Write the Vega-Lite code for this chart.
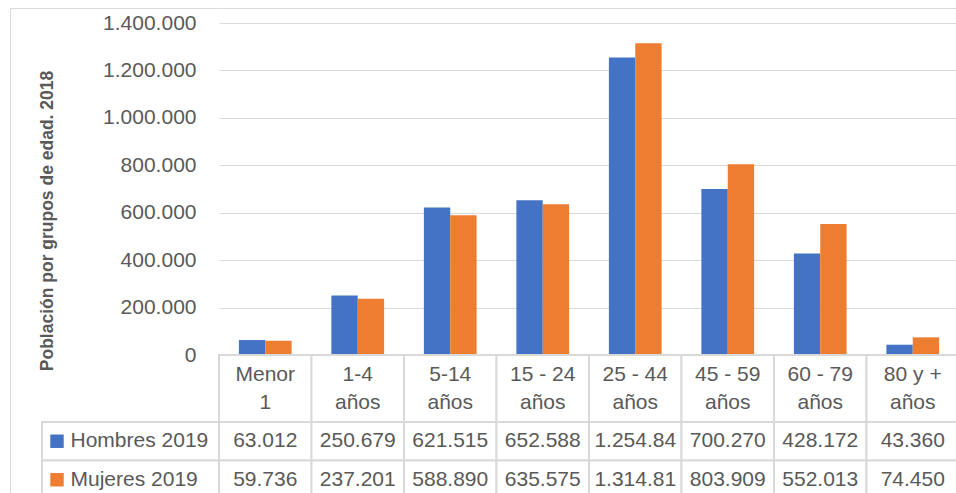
{
  "$schema": "https://vega.github.io/schema/vega-lite/v6.json",
  "background": "white",
  "padding": {"left": 10, "top": 8, "right": 0, "bottom": 0},
  "config": {
    "font": "Liberation Sans",
    "view": {"stroke": null},
    "locale": {"number": {"decimal": ",", "thousands": ".", "grouping": [3], "currency": ["", " €"]}}
  },
  "datasets": {
    "datos": [
      {"grupo": "Menor 1", "serie": "Hombres 2019", "valor": 63012},
      {"grupo": "Menor 1", "serie": "Mujeres 2019", "valor": 59736},
      {"grupo": "1-4 años", "serie": "Hombres 2019", "valor": 250679},
      {"grupo": "1-4 años", "serie": "Mujeres 2019", "valor": 237201},
      {"grupo": "5-14 años", "serie": "Hombres 2019", "valor": 621515},
      {"grupo": "5-14 años", "serie": "Mujeres 2019", "valor": 588890},
      {"grupo": "15 - 24 años", "serie": "Hombres 2019", "valor": 652588},
      {"grupo": "15 - 24 años", "serie": "Mujeres 2019", "valor": 635575},
      {"grupo": "25 - 44 años", "serie": "Hombres 2019", "valor": 1254840},
      {"grupo": "25 - 44 años", "serie": "Mujeres 2019", "valor": 1314810},
      {"grupo": "45 - 59 años", "serie": "Hombres 2019", "valor": 700270},
      {"grupo": "45 - 59 años", "serie": "Mujeres 2019", "valor": 803909},
      {"grupo": "60 - 79 años", "serie": "Hombres 2019", "valor": 428172},
      {"grupo": "60 - 79 años", "serie": "Mujeres 2019", "valor": 552013},
      {"grupo": "80 y + años", "serie": "Hombres 2019", "valor": 43360},
      {"grupo": "80 y + años", "serie": "Mujeres 2019", "valor": 74450}
    ]
  },
  "columns": 2,
  "spacing": 0,
  "bounds": "flush",
  "resolve": {
    "scale": {"x": "independent", "y": "independent"},
    "axis": {"x": "independent", "y": "independent"}
  },
  "concat": [
    {
      "width": 177,
      "height": 332,
      "data": {"values": []},
      "mark": "point",
      "encoding": {
        "x": {"datum": 0, "type": "quantitative", "scale": {"domain": [0, 1], "range": [-32, 177]},
              "axis": {"orient": "top", "offset": 15, "labels": false, "ticks": false, "grid": false, "title": null, "domainColor": "#d9d9d9", "domainWidth": 1}},
        "y": {"datum": 0, "type": "quantitative", "scale": {"domain": [0, 1], "range": [476, -15]},
              "axis": {"orient": "left", "offset": 32, "labels": false, "ticks": false, "grid": false, "title": null, "domainColor": "#d9d9d9", "domainWidth": 1}}
      }
    },
    {
      "width": 740,
      "height": 332,
      "data": {"name": "datos"},
      "mark": {"type": "bar"},
      "encoding": {
        "x": {"field": "grupo", "type": "nominal", "sort": null,
              "scale": {"paddingInner": 0.43, "paddingOuter": 0.215},
              "axis": {"orient": "top", "offset": 15, "labels": false, "ticks": false, "grid": false, "title": null, "domainColor": "#d9d9d9", "domainWidth": 1}},
        "xOffset": {"field": "serie", "type": "nominal", "sort": null},
        "y": {"field": "valor", "type": "quantitative",
              "scale": {"domain": [0, 1400000], "nice": false},
              "axis": {
                "values": [0, 200000, 400000, 600000, 800000, 1000000, 1200000, 1400000],
                "format": ",d",
                "domain": false, "ticks": false,
                "labelFontSize": 21, "labelColor": "#595959", "labelPadding": 23,
                "gridColor": "#d9d9d9", "gridWidth": 1,
                "title": "Población por grupos de edad. 2018",
                "titleFontSize": 17.5, "titleFontWeight": "bold", "titleColor": "#595959",
                "titleAngle": 270, "titleAlign": "center", "titleBaseline": "middle",
                "titleX": -172, "titleY": 197.5
              }},
        "color": {"field": "serie", "type": "nominal",
                  "scale": {"domain": ["Hombres 2019", "Mujeres 2019"], "range": ["#4472c4", "#ed7d31"]},
                  "legend": null}
      }
    },
    {
      "width": 177,
      "height": 67,
      "data": {"values": []},
      "mark": "point"
    },
    {
      "width": 740,
      "height": 67,
      "data": {"name": "datos"},
      "transform": [
        {"filter": "datum.serie == 'Hombres 2019'"},
        {"calculate": "datum.grupo == 'Menor 1' ? 'Menor|1' : replace(datum.grupo, ' años', '|años')", "as": "linea"}
      ],
      "encoding": {
        "x": {"field": "grupo", "type": "nominal", "sort": null,
              "scale": {"paddingInner": 0, "paddingOuter": 0}, "axis": null}
      },
      "layer": [
        {"mark": {"type": "rect", "fill": "white", "stroke": "#d9d9d9", "strokeWidth": 2}},
        {"mark": {"type": "text", "lineBreak": "|", "lineHeight": 28, "fontSize": 21, "color": "#595959", "baseline": "middle", "dy": -14},
         "encoding": {"text": {"field": "linea"}}}
      ]
    },
    {
      "width": 177,
      "height": 77,
      "data": {"name": "datos"},
      "transform": [{"aggregate": [{"op": "count", "as": "n"}], "groupby": ["serie"]}],
      "encoding": {
        "y": {"field": "serie", "type": "nominal", "sort": ["Hombres 2019", "Mujeres 2019"],
              "scale": {"paddingInner": 0, "paddingOuter": 0}, "axis": null}
      },
      "layer": [
        {"mark": {"type": "rect", "fill": "white", "stroke": "#d9d9d9", "strokeWidth": 2}},
        {"mark": {"type": "square", "size": 180, "filled": true, "opacity": 1, "xOffset": -73.5},
         "encoding": {"color": {"field": "serie", "type": "nominal", "legend": null}}},
        {"mark": {"type": "text", "align": "left", "baseline": "middle", "dx": -60, "fontSize": 21, "color": "#595959"},
         "encoding": {"text": {"field": "serie"}}}
      ]
    },
    {
      "width": 740,
      "height": 77,
      "data": {"name": "datos"},
      "transform": [
        {"calculate": "slice(format(datum.valor, ',d'), 0, 8)", "as": "txt"}
      ],
      "encoding": {
        "x": {"field": "grupo", "type": "nominal", "sort": null,
              "scale": {"paddingInner": 0, "paddingOuter": 0}, "axis": null},
        "y": {"field": "serie", "type": "nominal", "sort": ["Hombres 2019", "Mujeres 2019"],
              "scale": {"paddingInner": 0, "paddingOuter": 0}, "axis": null}
      },
      "layer": [
        {"mark": {"type": "rect", "fill": "white", "stroke": "#d9d9d9", "strokeWidth": 2}},
        {"mark": {"type": "text", "baseline": "middle", "fontSize": 21, "color": "#595959"},
         "encoding": {"text": {"field": "txt"}}}
      ]
    }
  ]
}
